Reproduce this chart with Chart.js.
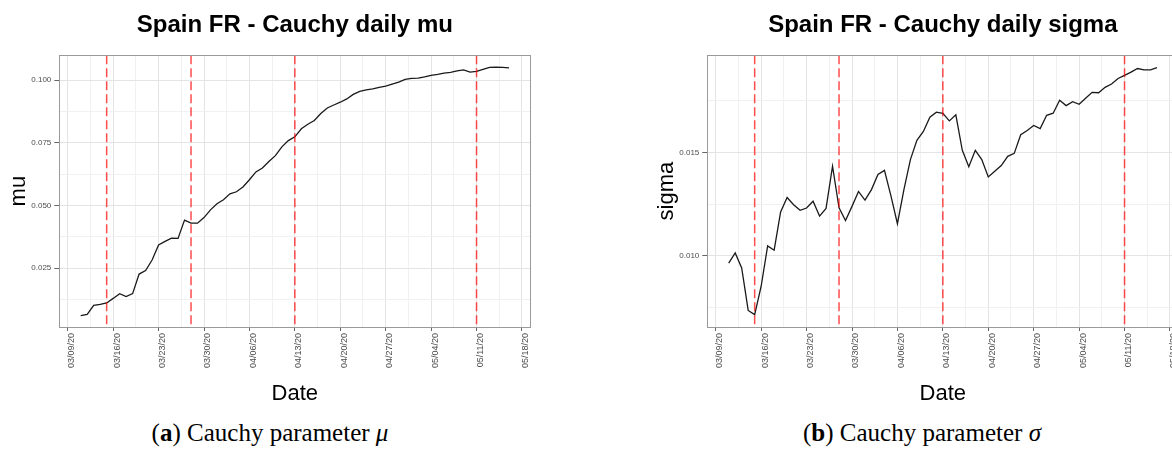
<!DOCTYPE html>
<html>
<head>
<meta charset="utf-8">
<script src="https://cdn.jsdelivr.net/npm/chart.js@4.4.1/dist/chart.umd.min.js"></script>
<style>
  html, body { margin: 0; padding: 0; background: #fff; }
  body { width: 1172px; height: 449px; position: relative; overflow: hidden; }
  canvas { position: absolute; top: 0; }
  #muChart { left: 0; }
  #sigmaChart { left: 648px; }
  .caption {
    position: absolute; top: 418px; width: 400px; text-align: center;
    font-family: 'Liberation Serif', 'Times New Roman', serif; font-size: 25px;
    line-height: 30px; color: #000; white-space: nowrap;
  }
</style>
</head>
<body>
<canvas id="muChart" width="590" height="410"></canvas>
<canvas id="sigmaChart" width="590" height="410"></canvas>
<div class="caption" style="left:70px">(<b>a</b>) Cauchy parameter <i>μ</i></div>
<div class="caption" style="left:722px">(<b>b</b>) Cauchy parameter <i>σ</i></div>
<script>
const FONT = "'Liberation Sans', Arial, sans-serif";

// one estimate per day, starting on this date
const firstDate = '03/11/20';
const dateTicks = ['03/09/20', '03/16/20', '03/23/20', '03/30/20', '04/06/20', '04/13/20',
                   '04/20/20', '04/27/20', '05/04/20', '05/11/20', '05/18/20'];
const changeDates = ['03/15/20', '03/28/20', '04/13/20', '05/11/20'];

const muValues = [
    0.0061, 0.0066, 0.0102, 0.0106, 0.0112, 0.0130, 0.0149, 0.0137, 0.0149, 0.0227,
    0.0241, 0.0283, 0.0343, 0.0357, 0.0370, 0.0369, 0.0442, 0.0430, 0.0430, 0.0452,
    0.0483, 0.0507, 0.0523, 0.0547, 0.0555, 0.0574, 0.0603, 0.0634, 0.0650, 0.0676,
    0.0699, 0.0734, 0.0759, 0.0774, 0.0806, 0.0824, 0.0839, 0.0867, 0.0889, 0.0901,
    0.0912, 0.0925, 0.0943, 0.0955, 0.0961, 0.0965, 0.0971, 0.0976, 0.0984, 0.0992,
    0.1003, 0.1007, 0.1008, 0.1013, 0.1019, 0.1023, 0.1028, 0.1031, 0.1037, 0.1041,
    0.1032, 0.1035, 0.1043, 0.1051, 0.1052, 0.1051, 0.1049
];
const sigmaValues = [
    0.00965, 0.01014, 0.00941, 0.00736, 0.00716, 0.00853, 0.01048, 0.01027, 0.01212, 0.01282,
    0.01247, 0.01220, 0.01231, 0.01264, 0.01192, 0.01229, 0.01433, 0.01232, 0.01171, 0.01239,
    0.01311, 0.01269, 0.01320, 0.01393, 0.01413, 0.01290, 0.01155, 0.01320, 0.01465, 0.01558,
    0.01601, 0.01670, 0.01694, 0.01688, 0.01652, 0.01681, 0.01510, 0.01430, 0.01510, 0.01465,
    0.01381, 0.01409, 0.01436, 0.01481, 0.01495, 0.01585, 0.01606, 0.01630, 0.01615, 0.01679,
    0.01689, 0.01752, 0.01726, 0.01745, 0.01732, 0.01761, 0.01790, 0.01788, 0.01814, 0.01830,
    0.01857, 0.01872, 0.01888, 0.01905, 0.01899, 0.01899, 0.01909
];

const muTicks = [0.025, 0.05, 0.075, 0.1];
const muTickLabels = ['0.025', '0.050', '0.075', '0.100'];
const sigmaTicks = [0.010, 0.015];
const sigmaTickLabels = ['0.010', '0.015'];

function dayOf(label) {
    const [m, d, y] = label.split('/').map(Number);
    return (Date.UTC(2000 + y, m - 1, d) - Date.UTC(2020, 2, 9)) / 86400000;
}

function toPoints(values) {
    const start = dayOf(firstDate);
    return values.map((v, i) => ({ x: start + i, y: v }));
}

// minor grid halfway between the major breaks, like ggplot does
function midpoints(list, lo, hi) {
    const step = list[1] - list[0];
    const out = [];
    for (let v = list[0] - step / 2; v <= hi; v += step) {
        if (v >= lo) out.push(v);
    }
    return out;
}

function isMajor(list, v) {
    return list.some(m => Math.abs(m - v) < 1e-9);
}

const panelExtras = {
    id: 'panelExtras',
    afterDatasetsDraw(chart) {
        const { ctx, chartArea: a, scales: { x } } = chart;
        ctx.save();
        ctx.strokeStyle = 'rgba(255, 0, 0, 0.7)';
        ctx.lineWidth = 1.5;
        ctx.setLineDash([9, 4]);
        changeDates.forEach(d => {
            const px = x.getPixelForValue(dayOf(d));
            ctx.beginPath();
            ctx.moveTo(px, a.top);
            ctx.lineTo(px, a.bottom);
            ctx.stroke();
        });
        ctx.restore();
    },
    afterDraw(chart) {
        const { ctx, chartArea: a } = chart;
        ctx.save();
        ctx.strokeStyle = '#9a9a9a';
        ctx.lineWidth = 1;
        const l = Math.round(a.left) + 0.5, t = Math.round(a.top) + 0.5;
        ctx.strokeRect(l, t, Math.round(a.right) - Math.round(a.left), Math.round(a.bottom) - Math.round(a.top));
        ctx.restore();
    }
};

function makeChart(id, title, yTitle, values, yMin, yMax, yTicks, yLabels) {
    const xMajor = dateTicks.map(dayOf);
    const xMin = -1.3, xMax = 71.3;
    const xAll = xMajor.concat(midpoints(xMajor, xMin, xMax)).sort((a, b) => a - b);
    const yAll = yTicks.concat(midpoints(yTicks, yMin, yMax)).sort((a, b) => a - b);

    new Chart(document.getElementById(id), {
        type: 'line',
        data: {
            datasets: [{
                data: toPoints(values),
                borderColor: '#1a1a1a',
                borderWidth: 1.3,
                pointRadius: 0,
                tension: 0,
                fill: false
            }]
        },
        options: {
            responsive: false,
            animation: false,
            layout: { padding: { left: 0, right: 59.6, top: 0, bottom: 0 } },
            plugins: {
                legend: { display: false },
                tooltip: { enabled: false },
                title: {
                    display: true,
                    text: title,
                    fullSize: false,
                    color: '#000',
                    font: { family: FONT, size: 24, weight: 'bold' },
                    padding: { top: 10.5, bottom: 16 }
                }
            },
            scales: {
                x: {
                    type: 'linear',
                    min: xMin,
                    max: xMax,
                    afterBuildTicks: s => { s.ticks = xAll.map(v => ({ value: v })); },
                    afterFit: s => { s.height = 83; },
                    border: { display: false },
                    grid: {
                        color: c => c.tick && isMajor(xMajor, c.tick.value) ? '#e4e4e4' : '#f1f1f1',
                        tickColor: c => c.tick && isMajor(xMajor, c.tick.value) ? '#666' : 'rgba(0,0,0,0)',
                        tickLength: 4
                    },
                    ticks: {
                        autoSkip: false,
                        minRotation: 90,
                        maxRotation: 90,
                        padding: 2,
                        labelOffset: 4,
                        color: '#4d4d4d',
                        font: { family: FONT, size: 9 },
                        callback: v => {
                            const i = xMajor.findIndex(m => Math.abs(m - v) < 1e-9);
                            return i < 0 ? '' : dateTicks[i];
                        }
                    },
                    title: {
                        display: true,
                        text: 'Date',
                        color: '#000',
                        font: { family: FONT, size: 22 },
                        padding: { top: 0, bottom: 3 }
                    }
                },
                y: {
                    type: 'linear',
                    min: yMin,
                    max: yMax,
                    afterBuildTicks: s => { s.ticks = yAll.map(v => ({ value: v })); },
                    afterFit: s => { s.width = 59.3; },
                    border: { display: false },
                    grid: {
                        color: c => c.tick && isMajor(yTicks, c.tick.value) ? '#e4e4e4' : '#f1f1f1',
                        tickColor: c => c.tick && isMajor(yTicks, c.tick.value) ? '#666' : 'rgba(0,0,0,0)',
                        tickLength: 5
                    },
                    ticks: {
                        padding: 3,
                        color: '#4d4d4d',
                        font: { family: FONT, size: 8 },
                        callback: v => {
                            const i = yTicks.findIndex(m => Math.abs(m - v) < 1e-9);
                            return i < 0 ? '' : yLabels[i];
                        }
                    },
                    title: {
                        display: true,
                        text: yTitle,
                        color: '#000',
                        font: { family: FONT, size: 22 },
                        padding: { top: 6, bottom: 0 }
                    }
                }
            }
        },
        plugins: [panelExtras]
    });
}

makeChart('muChart', 'Spain FR - Cauchy daily mu', 'mu', muValues, 0.0016, 0.1099, muTicks, muTickLabels);
makeChart('sigmaChart', 'Spain FR - Cauchy daily sigma', 'sigma', sigmaValues, 0.00656, 0.01969, sigmaTicks, sigmaTickLabels);
</script>
</body>
</html>
